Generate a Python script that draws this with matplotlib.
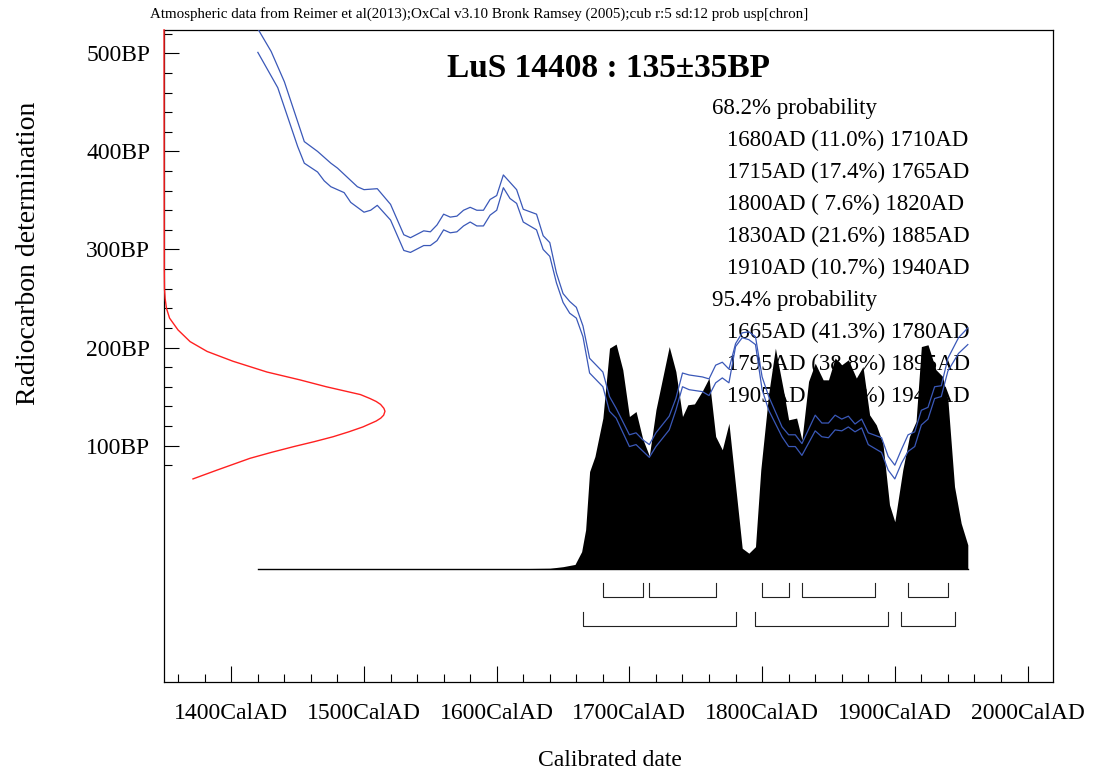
import numpy as np
import matplotlib
matplotlib.use("Agg")
import matplotlib.pyplot as plt

plt.rcParams["font.family"] = ["Liberation Serif", "DejaVu Serif"]

# calibration curve (IntCal13 band, upper and lower edge), BP
cal_up_years = [1420, 1430, 1440, 1455, 1465, 1475, 1480, 1495, 1500, 1510, 1520, 1530, 1535,
                1545, 1550, 1555, 1560, 1565, 1570, 1575, 1580, 1585, 1590, 1595, 1600, 1605,
                1615, 1620, 1630, 1635, 1640, 1645, 1650, 1655, 1660, 1665, 1670, 1680, 1685,
                1690, 1700, 1705, 1710, 1715, 1720, 1730, 1735, 1740, 1745, 1755, 1760, 1765,
                1770, 1775, 1780, 1785, 1790, 1795, 1800, 1805, 1815, 1820, 1825, 1830, 1840,
                1845, 1850, 1855, 1860, 1865, 1870, 1875, 1880, 1890, 1895, 1900, 1905, 1910,
                1915, 1920, 1925, 1930, 1935, 1940, 1948, 1955]
cal_up_bp = [525, 502, 471, 410, 400, 388, 383, 364, 361, 362, 346, 315, 312,
             319, 318, 325, 336, 333, 334, 340, 343, 340, 340, 351, 355, 376,
             361, 341, 336, 314, 307, 276, 255, 247, 241, 222, 189, 175, 150,
             138, 111, 113, 106, 101, 113, 130, 148, 174, 172, 170, 168, 182,
             185, 178, 204, 215, 216, 211, 170, 150, 119, 111, 111, 102, 131,
             123, 123, 131, 127, 130, 122, 127, 113, 108, 89, 80, 96, 111,
             114, 136, 139, 160, 161, 189, 210, 220]

cal_lo_years = [1420, 1435, 1450, 1455, 1465, 1470, 1475, 1485, 1490, 1500, 1505, 1510, 1520,
                1530, 1535, 1545, 1550, 1555, 1560, 1565, 1570, 1575, 1580, 1585, 1590, 1595,
                1600, 1605, 1610, 1615, 1620, 1630, 1635, 1640, 1645, 1650, 1655, 1660, 1665,
                1670, 1680, 1685, 1690, 1700, 1705, 1715, 1720, 1730, 1735, 1740, 1745, 1755,
                1760, 1765, 1770, 1775, 1780, 1785, 1790, 1795, 1800, 1805, 1815, 1820, 1825,
                1830, 1840, 1845, 1850, 1855, 1860, 1865, 1870, 1875, 1880, 1890, 1895, 1900,
                1905, 1910, 1915, 1920, 1925, 1930, 1935, 1940, 1948, 1955]
cal_lo_bp = [501, 465, 405, 388, 379, 370, 364, 358, 348, 338, 340, 345, 330,
             299, 297, 304, 304, 309, 320, 317, 318, 324, 328, 324, 324, 335,
             340, 363, 352, 347, 328, 320, 300, 293, 266, 246, 235, 230, 211,
             174, 160, 135, 128, 99, 101, 88, 99, 116, 136, 160, 157, 155,
             151, 164, 169, 164, 201, 210, 208, 203, 157, 136, 109, 99, 99,
             90, 115, 109, 108, 116, 115, 119, 114, 118, 101, 93, 75, 66,
             82, 94, 99, 121, 127, 148, 150, 176, 194, 203]

# calibrated probability (relative)
prob_years = [1420, 1600, 1640, 1650, 1659, 1664, 1667, 1670, 1674, 1680, 1685, 1690, 1695,
              1700, 1705, 1710, 1715, 1720, 1730, 1735, 1740, 1744, 1749, 1755, 1760, 1765,
              1770, 1775, 1785, 1790, 1795, 1799, 1805, 1810, 1816, 1820, 1826, 1830, 1835,
              1840, 1846, 1850, 1855, 1860, 1865, 1871, 1876, 1881, 1886, 1891, 1896, 1900,
              1906, 1911, 1916, 1920, 1925, 1931, 1936, 1940, 1945, 1950, 1955]
prob = [0, 0, 0.003, 0.01, 0.02, 0.077, 0.174, 0.433, 0.5, 0.671, 0.982, 1.0, 0.886,
        0.678, 0.7, 0.579, 0.503, 0.708, 0.989, 0.878, 0.678, 0.73, 0.734, 0.792, 0.849, 0.589,
        0.53, 0.648, 0.092, 0.07, 0.099, 0.441, 0.782, 0.982, 0.797, 0.663, 0.671, 0.574, 0.834,
        0.915, 0.841, 0.841, 0.938, 0.908, 0.93, 0.849, 0.9, 0.685, 0.641, 0.559, 0.285, 0.21,
        0.441, 0.589, 0.656, 0.989, 0.997, 0.886, 0.856, 0.752, 0.366, 0.203, 0.107]

# radiocarbon measurement 135 +- 35 BP (red curve, relative density)
c14_bp = [524, 280, 260, 250, 240, 230, 218, 206, 196, 186, 175, 167, 160, 152, 148, 145,
          142, 138, 135, 131, 128, 125, 119, 114, 109, 104, 99, 93, 87, 75, 66]
c14_dens = [0, 0.001, 0.002, 0.005, 0.011, 0.025, 0.063, 0.118, 0.195, 0.312, 0.466, 0.615,
            0.734, 0.889, 0.932, 0.96, 0.98, 0.995, 1.0, 0.994, 0.981, 0.96, 0.9, 0.836,
            0.765, 0.68, 0.588, 0.485, 0.389, 0.24, 0.131]

ranges_68 = [(1680, 1710), (1715, 1765), (1800, 1820), (1830, 1885), (1910, 1940)]
ranges_95 = [(1665, 1780), (1795, 1895), (1905, 1945)]

text_lines = ["68.2% probability",
              "  1680AD (11.0%) 1710AD",
              "  1715AD (17.4%) 1765AD",
              "  1800AD ( 7.6%) 1820AD",
              "  1830AD (21.6%) 1885AD",
              "  1910AD (10.7%) 1940AD",
              "95.4% probability",
              "  1665AD (41.3%) 1780AD",
              "  1795AD (38.8%) 1895AD",
              "  1905AD (15.3%) 1945AD"]

x_major = [1400, 1500, 1600, 1700, 1800, 1900, 2000]
y_major = [100, 200, 300, 400, 500]

fig = plt.figure(figsize=(10.95, 7.74), dpi=100)
ax = fig.add_axes([0.1498, 0.1189, 0.8116, 0.8423])
ax.set_xlim(1349.3, 2019)
ax.set_ylim(-141.1, 523.8)

# probability text sits under the distribution
for i, s in enumerate(text_lines):
    xpos = 0.6166 if s.startswith("9") or s.startswith("6") else 0.6336
    ax.text(xpos, 0.8804 - i * 0.0491, s.strip(), transform=ax.transAxes,
            fontsize=16.5, va="center", ha="left", zorder=1)

base = -25.8
hscale = 229.3
ptop = base + np.array(prob) * hscale
ax.fill_between(prob_years, base, ptop, color="black", lw=0, zorder=2)
ax.plot([prob_years[0], prob_years[-1]], [base, base], color="black", lw=1, zorder=2)

ax.plot(cal_up_years, cal_up_bp, color="#3a58b8", lw=0.9, zorder=3)
ax.plot(cal_lo_years, cal_lo_bp, color="#3a58b8", lw=0.9, zorder=3)

ax.plot(1349.3 + np.array(c14_dens) * 166.5, c14_bp, color="#ff2020", lw=1, zorder=4,
        clip_on=False)

for lo, hi in ranges_68:
    ax.plot([lo, lo, hi, hi], [-40.5, -54.2, -54.2, -40.5], color="#222222", lw=0.8)
for lo, hi in ranges_95:
    ax.plot([lo, lo, hi, hi], [-69.7, -84.0, -84.0, -69.7], color="#222222", lw=0.8)

ax.set_xticks(x_major)
ax.set_xticklabels([f"{v}CalAD" for v in x_major])
ax.set_xticks(np.arange(1360, 2000, 20), minor=True)
ax.set_yticks(y_major)
ax.set_yticklabels([f"{v}BP" for v in y_major])
ax.set_yticks(np.arange(80, 530, 20), minor=True)
ax.tick_params(axis="x", which="major", direction="in", length=11.5, width=0.8, pad=15, labelsize=17)
ax.tick_params(axis="x", which="minor", direction="in", length=5.5, width=0.8)
ax.tick_params(axis="y", which="major", direction="in", length=11, width=0.8, pad=10, labelsize=17)
ax.tick_params(axis="y", which="minor", direction="in", length=5.5, width=0.8)
for sp in ax.spines.values():
    sp.set_linewidth(0.9)

ax.text(0.5, 0.9417, "LuS 14408 : 135\u00b135BP", transform=ax.transAxes, fontsize=24,
        fontweight="bold", ha="center", va="center", zorder=5)

fig.text(0.137, 0.982, "Atmospheric data from Reimer et al(2013);OxCal v3.10 Bronk Ramsey (2005);"
         "cub r:5 sd:12 prob usp[chron]", fontsize=10.8, ha="left", va="center")
fig.text(0.0256, 0.673, "Radiocarbon determination", rotation=90, fontsize=20,
         ha="center", va="center")
fig.text(0.557, 0.018, "Calibrated date", fontsize=17, ha="center", va="center")

fig.savefig("out.png", dpi=100)
